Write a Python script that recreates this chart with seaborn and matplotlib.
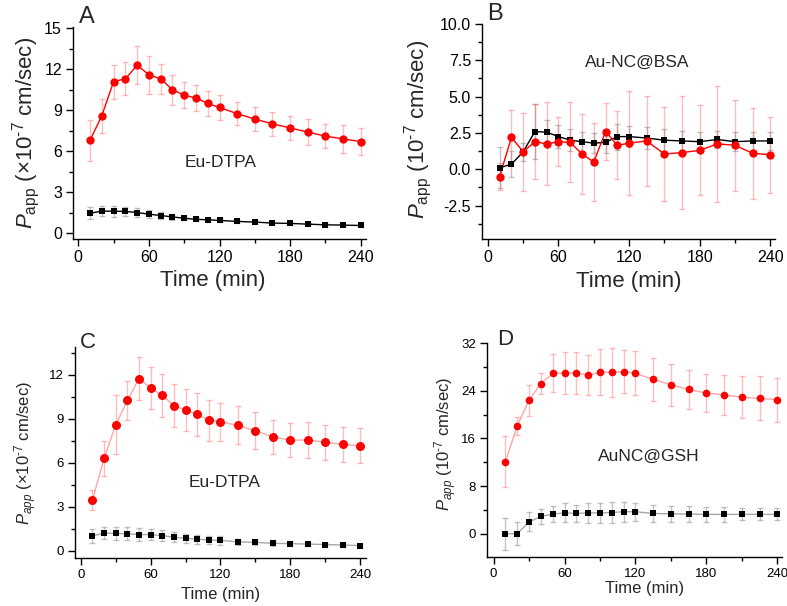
import numpy as np
import pandas as pd
import matplotlib
matplotlib.use("Agg")
import matplotlib.pyplot as plt
from matplotlib.ticker import MultipleLocator
import seaborn as sns

# ---------------- data ----------------
time = [10, 20, 30, 40, 50, 60, 70, 80, 90, 100, 110, 120, 135, 150, 165, 180, 195, 210, 225, 240]

a_red = [6.8, 8.6, 11.1, 11.3, 12.3, 11.6, 11.3, 10.5, 10.1, 9.9, 9.5, 9.2, 8.75, 8.35, 8.0, 7.7, 7.4, 7.1, 6.9, 6.7]
a_red_err = [1.5, 1.25, 1.25, 1.2, 1.4, 1.4, 1.1, 1.1, 0.95, 0.95, 0.9, 0.9, 0.85, 0.9, 0.9, 0.9, 0.95, 0.9, 1.0, 1.0]
a_blk = [1.45, 1.6, 1.6, 1.58, 1.5, 1.38, 1.28, 1.18, 1.08, 1.0, 0.97, 0.92, 0.85, 0.8, 0.73, 0.7, 0.65, 0.6, 0.58, 0.55]
a_blk_err = [0.45, 0.35, 0.4, 0.35, 0.3, 0.3, 0.25, 0.2, 0.15, 0.15, 0.15, 0.15, 0.12, 0.12, 0.1, 0.1, 0.1, 0.1, 0.1, 0.1]

b_red = [-0.5, 2.2, 1.2, 1.9, 1.75, 1.9, 1.85, 1.05, 0.5, 2.6, 1.65, 1.8, 1.95, 1.05, 1.15, 1.3, 1.75, 1.65, 1.1, 1.0]
b_red_err = [0.9, 1.85, 2.7, 2.6, 2.85, 1.7, 2.75, 2.75, 2.7, 1.95, 2.35, 3.6, 3.1, 3.25, 3.9, 3.1, 4.0, 3.15, 3.15, 2.6]
b_blk = [0.1, 0.35, 1.2, 2.6, 2.55, 2.25, 2.0, 1.9, 1.8, 1.85, 2.25, 2.25, 2.15, 2.0, 1.95, 1.9, 2.05, 1.9, 1.95, 1.95]
b_blk_err = [1.4, 0.9, 0.6, 1.9, 0.85, 0.8, 0.75, 0.7, 0.7, 0.7, 0.9, 0.7, 0.75, 0.8, 0.7, 0.7, 0.6, 0.65, 0.65, 0.65]

c_red = [3.45, 6.3, 8.6, 10.25, 11.75, 11.1, 10.6, 9.9, 9.6, 9.3, 8.9, 8.8, 8.55, 8.2, 7.75, 7.55, 7.55, 7.4, 7.25, 7.15]
c_red_err = [0.7, 1.2, 2.0, 1.3, 1.45, 1.45, 1.45, 1.45, 1.45, 1.45, 1.4, 1.3, 1.3, 1.25, 1.15, 1.15, 1.25, 1.2, 1.2, 1.2]
c_blk = [1.0, 1.2, 1.18, 1.15, 1.1, 1.1, 1.03, 0.92, 0.85, 0.78, 0.73, 0.7, 0.6, 0.57, 0.5, 0.48, 0.45, 0.42, 0.38, 0.35]
c_blk_err = [0.45, 0.4, 0.45, 0.45, 0.45, 0.4, 0.35, 0.35, 0.3, 0.3, 0.3, 0.3, 0.2, 0.2, 0.15, 0.15, 0.15, 0.12, 0.12, 0.12]

d_red = [12.1, 18.1, 22.4, 25.2, 26.9, 27.0, 27.0, 26.6, 27.1, 27.1, 27.2, 26.9, 25.9, 25.0, 24.2, 23.6, 23.3, 22.9, 22.7, 22.5]
d_red_err = [4.3, 1.5, 2.6, 1.8, 3.2, 3.5, 3.5, 3.4, 3.9, 4.1, 3.6, 3.7, 3.6, 3.5, 3.3, 3.2, 3.3, 3.5, 3.7, 3.7]
d_blk = [0.0, 0.0, 2.0, 2.9, 3.3, 3.5, 3.4, 3.5, 3.5, 3.55, 3.7, 3.7, 3.4, 3.35, 3.3, 3.25, 3.25, 3.25, 3.25, 3.25]
d_blk_err = [2.7, 1.9, 1.6, 1.3, 1.3, 1.6, 1.5, 1.7, 1.7, 1.7, 1.7, 1.5, 1.5, 1.3, 1.35, 1.25, 1.2, 1.0, 1.0, 1.0]

panel_letters = ["A", "B", "C", "D"]
panel_texts = ["Eu-DTPA", "Au-NC@BSA", "Eu-DTPA", "AuNC@GSH"]
xlabel_text = "Time (min)"
ylabels = [
    r"$\mathit{P}_{\mathrm{app}}$ (×10$^{\text{-7}}$ cm/sec)",
    r"$\mathit{P}_{\mathrm{app}}$ (10$^{\text{-7}}$ cm/sec)",
    r"$\mathit{P}_{\mathit{app}}$ (×10$^{\text{-7}}$ cm/sec)",
    r"$\mathit{P}_{\mathit{app}}$ (10$^{\text{-7}}$ cm/sec)",
]

# ---------------- style ----------------
sns.set_style("ticks")
plt.rcParams["font.family"] = ["Liberation Sans", "DejaVu Sans"]
plt.rcParams["mathtext.fontset"] = "custom"
plt.rcParams["mathtext.rm"] = "Liberation Sans"
plt.rcParams["mathtext.it"] = "Liberation Sans:italic"
plt.rcParams["mathtext.bf"] = "Liberation Sans:bold"

fig = plt.figure(figsize=(7.87, 6.06), dpi=100)
W, H = 787, 606

def axes_px(l, r, t, b):
    return fig.add_axes([l / W, (H - b) / H, (r - l) / W, (b - t) / H])

specs = [
    dict(box=(73, 366, 27, 239), red=a_red, rerr=a_red_err, blk=a_blk, berr=a_blk_err,
         ylim=(-0.44, 15.1), xlim=(-4.5, 244.5), ymaj=3, ymin=1.5, big=True, faint=False,
         ylc=(-0.106, 0.5), xlc=(0.478, -0.146), txt=(0.505, 0.36), letter=(79, 23), ms=(6, 5)),
    dict(box=(482, 775, 24, 239), red=b_red, rerr=b_red_err, blk=b_blk, berr=b_blk_err,
         ylim=(-4.8, 10.0), xlim=(-5, 244), ymaj=2.5, ymin=1.25, big=True, faint=False,
         ylc=(-0.164, 0.51), xlc=(0.5, -0.149), txt=(0.529, 0.82), letter=(487, 20), ms=(6, 5)),
    dict(box=(75, 366, 347, 558), red=c_red, rerr=c_red_err, blk=c_blk, berr=c_blk_err,
         ylim=(-0.5, 13.9), xlim=(-5, 245), ymaj=3, ymin=1.5, big=False, faint=True,
         ylc=(-0.124, 0.5), xlc=(0.5, -0.137), txt=(0.514, 0.36), letter=(80, 348), ms=(6.5, 5)),
    dict(box=(487, 782, 343, 557), red=d_red, rerr=d_red_err, blk=d_blk, berr=d_blk_err,
         ylim=(-3.9, 32), xlim=(-5.6, 244), ymaj=8, ymin=4, big=False, faint=True,
         ylc=(-0.095, 0.53), xlc=(0.535, -0.112), txt=(0.549, 0.47), letter=(497, 345), ms=(5.5, 4.5)),
]

for i, s in enumerate(specs):
    ax = axes_px(*s["box"])
    df = pd.DataFrame({"time": time, "red": s["red"], "blk": s["blk"]})
    line_alpha = 0.35 if s["faint"] else 1.0

    # error bars
    ax.errorbar(time, s["blk"], yerr=s["berr"], fmt="none", ecolor="#555555",
                alpha=0.35, elinewidth=1.0, capsize=2.5, capthick=1.0, zorder=1)
    ax.errorbar(time, s["red"], yerr=s["rerr"], fmt="none", ecolor="#ff4444",
                alpha=0.35, elinewidth=1.0, capsize=2.5, capthick=1.0, zorder=1)

    # lines
    sns.lineplot(data=df, x="time", y="blk", ax=ax, color="black", linewidth=1.0,
                 alpha=line_alpha, errorbar=None, zorder=2)
    sns.lineplot(data=df, x="time", y="red", ax=ax, color="red", linewidth=1.0,
                 alpha=line_alpha, errorbar=None, zorder=2)
    # markers
    sns.scatterplot(data=df, x="time", y="blk", ax=ax, marker="s", color="black",
                    s=s["ms"][1] ** 2, edgecolor="black", linewidth=0, zorder=3)
    sns.scatterplot(data=df, x="time", y="red", ax=ax, marker="o", color="red",
                    s=s["ms"][0] ** 2, edgecolor="red", linewidth=0, zorder=3)

    ax.set_xlim(*s["xlim"])
    ax.set_ylim(*s["ylim"])
    ax.xaxis.set_major_locator(MultipleLocator(60))
    ax.xaxis.set_minor_locator(MultipleLocator(30))
    ax.yaxis.set_major_locator(MultipleLocator(s["ymaj"]))
    ax.yaxis.set_minor_locator(MultipleLocator(s["ymin"]))
    if i == 1:
        ax.set_yticks([-2.5, 0, 2.5, 5, 7.5, 10])
        ax.set_yticklabels(["-2.5", "0.0", "2.5", "5.0", "7.5", "10.0"])

    sns.despine(ax=ax)
    for sp in ("left", "bottom"):
        ax.spines[sp].set_linewidth(1.0)
        ax.spines[sp].set_color("black")

    tick_fs = 11.5 if s["big"] else 9.5
    lab_fs = 16 if s["big"] else 12
    ax.tick_params(which="major", direction="out", length=5, width=1.0,
                   labelsize=tick_fs, colors="black", pad=3)
    ax.tick_params(which="minor", direction="out", length=3, width=1.0, colors="black")

    ax.set_xlabel(xlabel_text, fontsize=lab_fs)
    ax.set_ylabel(ylabels[i], fontsize=lab_fs)
    ax.xaxis.set_label_coords(*s["xlc"])
    ax.yaxis.set_label_coords(*s["ylc"])

    ax.text(s["txt"][0], s["txt"][1], panel_texts[i], transform=ax.transAxes,
            ha="center", va="center", fontsize=12.5)

    lx, ly = s["letter"]
    fig.text(lx / W, (H - ly) / H, panel_letters[i], ha="left", va="baseline",
             fontsize=17 if s["big"] else 16)

fig.savefig("out.png", dpi=100)
